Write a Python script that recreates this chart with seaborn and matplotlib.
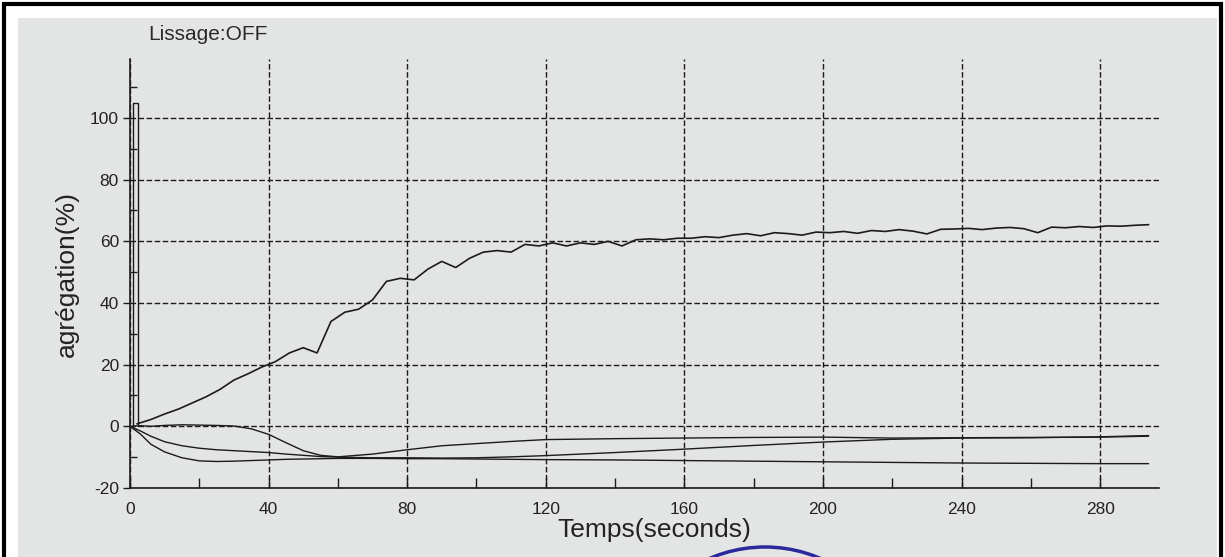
import numpy as np
import pandas as pd
import matplotlib
matplotlib.use('Agg')
import matplotlib.pyplot as plt
import seaborn as sns
from matplotlib.patches import Rectangle, Arc
from matplotlib.ticker import MultipleLocator

# --- donnees (agregation en %) ---
time_main = np.arange(2, 295, 4)
aggr_main = [0.8, 2.2, 4.0, 5.6, 7.6, 9.6, 12.0, 15.0, 17.0, 19.2,
             21.0, 23.8, 25.5, 23.8, 34.0, 37.0, 38.0, 41.0, 47.0, 48.0,
             47.5, 51.0, 53.5, 51.5, 54.5, 56.5, 57.0, 56.5, 59.0, 58.5,
             59.5, 58.5, 59.5, 59.0, 60.0, 58.5, 60.5, 60.8, 60.5, 61.0,
             61.0, 61.5, 61.2, 62.0, 62.5, 61.8, 62.8, 62.5, 62.0, 63.0,
             62.8, 63.2, 62.6, 63.5, 63.2, 63.8, 63.3, 62.4, 63.9, 64.0,
             64.2, 63.8, 64.3, 64.5, 64.1, 62.8, 64.6, 64.4, 64.8, 64.5,
             65.0, 64.9, 65.2, 65.4]

time_slow = [0, 3, 6, 10, 15, 20, 25, 30, 35, 40, 45, 50, 55, 60, 70, 80,
             90, 100, 110, 120, 140, 160, 180, 200, 220, 240, 260, 280, 294]
aggr_a = [0.0, 0.2, 0.0, 0.3, 0.5, 0.4, 0.3, 0.1, -0.8, -2.6, -5.3, -7.9,
          -9.4, -9.9, -9.0, -7.6, -6.3, -5.6, -4.9, -4.3, -4.0, -3.8, -3.6,
          -3.5, -3.8, -3.7, -3.6, -3.5, -3.2]
aggr_b = [0.0, -1.5, -3.2, -5.0, -6.3, -7.1, -7.6, -7.9, -8.2, -8.5, -9.0,
          -9.4, -9.8, -10.0, -10.2, -10.2, -10.3, -10.2, -9.9, -9.5, -8.5,
          -7.4, -6.2, -5.1, -4.2, -3.8, -3.7, -3.4, -3.0]
aggr_c = [0.0, -2.5, -5.8, -8.3, -10.2, -11.2, -11.4, -11.3, -11.1, -10.9,
          -10.7, -10.6, -10.5, -10.4, -10.4, -10.5, -10.5, -10.6, -10.7,
          -10.8, -10.9, -11.1, -11.3, -11.5, -11.7, -11.9, -12.0, -12.1, -12.1]

# pic de calibration au depart
calib_time = [1.0, 1.0, 2.4, 2.4]
calib_value = [0.0, 105.0, 105.0, 0.0]

x_ticks = [0, 40, 80, 120, 160, 200, 240, 280]
y_ticks = [-20, 0, 20, 40, 60, 80, 100]

df_main = pd.DataFrame({'t': time_main, 'v': aggr_main})
df_slow = pd.DataFrame({'t': time_slow, 'a': aggr_a, 'b': aggr_b, 'c': aggr_c})
df_calib = pd.DataFrame({'t': calib_time, 'v': calib_value})

sns.set_theme(style='white')
plt.rcParams['font.family'] = ['Liberation Sans', 'DejaVu Sans']
plt.rcParams['axes.unicode_minus'] = False

W, H = 1225, 557
fig = plt.figure(figsize=(W / 100, H / 100), dpi=100)
fig.patch.set_facecolor('white')

# papier photographie + cadre noir
fig.add_artist(Rectangle((18 / W, 0), 1199 / W, 1 - 18 / H, transform=fig.transFigure,
                         facecolor='#e3e5e4', edgecolor='none', zorder=0))
fig.add_artist(Rectangle((4 / W, -0.05), 1217 / W, 1.05 - 4 / H, transform=fig.transFigure,
                         facecolor='none', edgecolor='black', lw=3, zorder=1))

ax = fig.add_axes([130 / W, 1 - 488 / H, 1029 / W, (488 - 59.4) / H])
ax.set_facecolor('none')

ink = '#1b1b1b'
sns.lineplot(data=df_calib, x='t', y='v', ax=ax, color=ink, lw=1.0,
             estimator=None, sort=False)
for col in ['a', 'b', 'c']:
    sns.lineplot(data=df_slow, x='t', y=col, ax=ax, color=ink, lw=1.0,
                 estimator=None)
sns.lineplot(data=df_main, x='t', y='v', ax=ax, color=ink, lw=1.2,
             estimator=None)
for ln in ax.lines:
    ln.set_clip_on(False)

ax.set_xlim(0, 297)
ax.set_ylim(-20, 119)
ax.set_xticks(x_ticks)
ax.set_yticks(y_ticks)
ax.xaxis.set_minor_locator(MultipleLocator(20))
ax.yaxis.set_minor_locator(MultipleLocator(10))

ax.grid(True, which='major', color=ink, linestyle=(0, (4, 1.8)), lw=1.0)
ax.set_axisbelow(True)

for s in ['top', 'right']:
    ax.spines[s].set_visible(False)
for s in ['left', 'bottom']:
    ax.spines[s].set_color(ink)
    ax.spines[s].set_linewidth(1.2)

ax.tick_params(axis='x', which='major', direction='in', length=8, width=1.0,
               color=ink, labelsize=12.5, pad=10, bottom=True)
ax.tick_params(axis='x', which='minor', direction='in', length=7, width=1.0,
               color=ink, bottom=True)
ax.tick_params(axis='y', which='major', direction='out', length=5, width=1.0,
               color=ink, labelsize=12.5, pad=3, left=True)
ax.tick_params(axis='y', which='minor', direction='in', length=5, width=1.0,
               color=ink, left=True)
for lab in ax.get_xticklabels() + ax.get_yticklabels():
    lab.set_color('#222222')

ax.set_xlabel('Temps(seconds)', fontsize=19, color='#222222')
ax.set_ylabel('agrégation(%)', fontsize=19, color='#222222')
ax.xaxis.set_label_coords(0.51, -0.07)
ax.yaxis.set_label_coords(-0.05, 0.5)

fig.text(148 / W, 1 - 35 / H, 'Lissage:OFF', fontsize=15, color='#2a2a2a',
         ha='left', va='center')

# tampon bleu en bas
fig.add_artist(Arc((765 / W, 1 - 687 / H), 280 / W, 280 / H, transform=fig.transFigure,
                   theta1=40, theta2=140, color='#2b2a9c', lw=2.5))

fig.savefig('out.png', dpi=100)
